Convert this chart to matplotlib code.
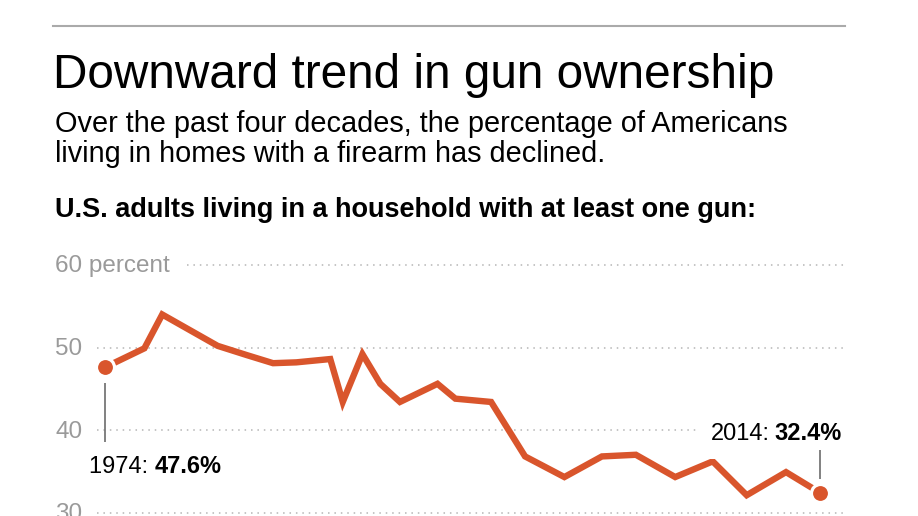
import matplotlib
matplotlib.use('Agg')
from matplotlib import pyplot as plt
from matplotlib.transforms import blended_transform_factory, offset_copy

plt.rcParams['font.family'] = ['Liberation Sans', 'DejaVu Sans']

# share of U.S. adults living in a household with at least one gun (percent),
# survey positions
years = [1974.0, 1976.2, 1977.2, 1980.3, 1981.9, 1983.4, 1984.7, 1986.6, 1987.3, 1988.4,
         1989.4, 1990.5, 1992.6, 1993.6, 1995.6, 1997.5, 1999.7, 2001.8, 2003.7, 2005.9,
         2008.0, 2009.9, 2012.1, 2014.0]
share = [47.6, 49.9, 54.0, 50.2, 49.1, 48.1, 48.2, 48.6, 43.4, 49.2,
         45.6, 43.4, 45.6, 43.8, 43.4, 36.8, 34.3, 36.8, 37.0, 34.3,
         36.2, 32.1, 34.9, 32.4]
y_ticks = [60, 50, 40, 30]
y_tick_labels = ['60 percent', '50', '40', '30']

TITLE = 'Downward trend in gun ownership'
SUBTITLE = ['Over the past four decades, the percentage of Americans',
            'living in homes with a firearm has declined.']
LABEL = 'U.S. adults living in a household with at least one gun:'

W, H = 918, 516
LINE_COLOR = '#d9552c'
GRID_COLOR = '#b5b5b5'
TICK_COLOR = '#9a9a9a'


def fx(px):
    return px / W


def fy(py):
    return 1 - py / H


fig = plt.figure(figsize=(W / 100, H / 100), dpi=100)
fig.patch.set_facecolor('white')

# header
fig.add_artist(plt.Line2D([fx(53), fx(845)], [fy(25.5), fy(25.5)], color='#aaaaaa', lw=1.5))
fig.text(fx(53), fy(88), TITLE, fontsize=34.4, va='baseline', ha='left', color='black')
for i, line in enumerate(SUBTITLE):
    fig.text(fx(55), fy(132 + 30 * i), line, fontsize=20.8, va='baseline', ha='left', color='black')
fig.text(fx(55), fy(217), LABEL, fontsize=19.5, fontweight='bold', va='baseline', ha='left')

# chart area
ax = fig.add_axes([fx(97), 0, fx(845) - fx(97), (516 - 255) / H])
ax.set_xlim(1973.55, 2015.40)
ax.set_ylim(29.58, 61.21)
ax.axis('off')

for val in y_ticks:
    start = 0.12 if val == y_ticks[0] else 0.0
    ax.axhline(val, xmin=start, xmax=1, color=GRID_COLOR, lw=1.1,
               linestyle=(0, (1, 3.2)), zorder=1)

lab_trans = blended_transform_factory(fig.transFigure, ax.transData)
for val, lab in zip(y_ticks, y_tick_labels):
    ax.text(fx(55), val, lab, transform=offset_copy(lab_trans, fig=fig, y=-7.5, units='dots'),
            fontsize=17.5, color=TICK_COLOR, ha='left', va='baseline')

ax.plot(years, share, color=LINE_COLOR, lw=4.6, solid_joinstyle='miter',
        solid_capstyle='butt', zorder=3)
ax.plot([years[0], years[-1]], [share[0], share[-1]], 'o', color=LINE_COLOR, ms=13,
        markeredgecolor='white', markeredgewidth=2.3, zorder=4)

# leader lines
ax.vlines(years[0], share[0] - 9.1, share[0] - 1.9, color='#777777', lw=1.3, zorder=2)
ax.vlines(years[-1], share[-1] + 1.7, share[-1] + 5.2, color='#777777', lw=1.3, zorder=2)

# annotations (regular year + bold value)
fig.canvas.draw()
renderer = fig.canvas.get_renderer()

t1 = ax.annotate('1974: ', xy=(years[0], share[0]), xytext=(-16, -106),
                 textcoords='offset pixels', fontsize=17, ha='left', va='baseline')
fig.canvas.draw()
bb = t1.get_window_extent(renderer)
ax.annotate(f'{share[0]}%', xy=(years[0], share[0]), xytext=(-16 + bb.width, -106),
            textcoords='offset pixels', fontsize=17, fontweight='bold', ha='left', va='baseline')

t2 = ax.annotate(f'{share[-1]}%', xy=(years[-1], share[-1]), xytext=(22, 53),
                 textcoords='offset pixels', fontsize=17, fontweight='bold',
                 ha='right', va='baseline', zorder=6,
                 bbox=dict(boxstyle='square,pad=0.2', fc='white', ec='none'))
fig.canvas.draw()
bb2 = t2.get_window_extent(renderer)
ax.annotate('2014:', xy=(years[-1], share[-1]), xytext=(22 - bb2.width - 5, 53),
            textcoords='offset pixels', fontsize=17, ha='right', va='baseline', zorder=5,
            bbox=dict(boxstyle='square,pad=0.6', fc='white', ec='none'))

fig.savefig('out.png', dpi=100, facecolor='white')
